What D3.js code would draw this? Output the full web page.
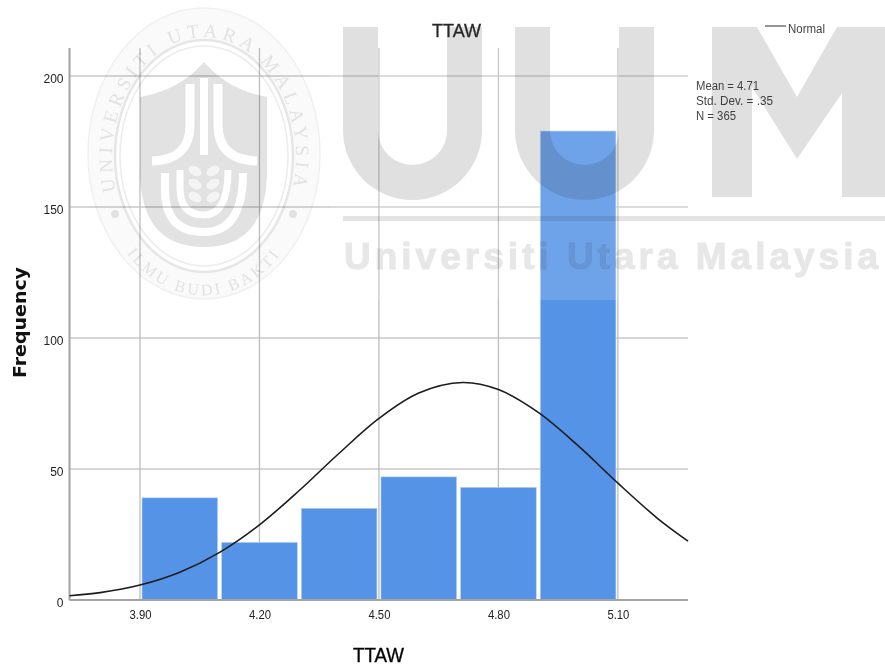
<!DOCTYPE html>
<html><head><meta charset="utf-8">
<script src="https://cdnjs.cloudflare.com/ajax/libs/d3/7.8.5/d3.min.js"></script>
<style>
html,body{margin:0;padding:0;background:#fff}
svg{display:block;filter:blur(0.35px)}
text{font-family:"Liberation Sans",Arial,sans-serif;fill:#222}
</style></head><body>
<svg id="c" width="885" height="671"></svg>
<script>
const binStarts = [3.9, 4.1, 4.3, 4.5, 4.7, 4.9];
const binCounts = [39, 22, 35, 47, 43, 179];
const binWidth = 0.2;
const xTicks = [3.9, 4.2, 4.5, 4.8, 5.1];
const yTicks = [0, 50, 100, 150, 200];
const curveX = [3.723, 3.8, 3.9, 4.0, 4.1, 4.2, 4.3, 4.4, 4.5, 4.6, 4.71, 4.8, 4.9, 5.0, 5.1, 5.2, 5.276];
const curveY = [1.6, 2.8, 5.7, 10.6, 18.2, 28.7, 41.8, 56, 69.3, 79, 83, 80.3, 71.6, 58.9, 44.6, 31.1, 22.5];
const statLines = ["Mean = 4.71", "Std. Dev. = .35", "N = 365"];
const chartTitle = "TTAW", xTitle = "TTAW", yTitle = "Frequency", legendLabel = "Normal";

const svg = d3.select("#c");
const x = d3.scaleLinear().domain([3.723, 5.276]).range([69.5, 688]);
const y = d3.scaleLinear().domain([0, 200]).range([600, 76]);

// Gridlines
svg.append("g").selectAll("line").data(yTicks.slice(1)).join("line")
  .attr("x1", 70).attr("x2", 688).attr("y1", d => y(d)).attr("y2", d => y(d))
  .attr("stroke", "#c9c9c9").attr("stroke-width", 1.6);
svg.append("g").selectAll("line").data(xTicks).join("line")
  .attr("x1", d => x(d)).attr("x2", d => x(d)).attr("y1", 48).attr("y2", 600)
  .attr("stroke", "#bdbdbd").attr("stroke-width", 1.3);

// Bars
svg.append("g").selectAll("rect").data(binStarts).join("rect")
  .attr("x", d => x(d) + 2).attr("width", d => x(d + binWidth) - x(d) - 4)
  .attr("y", (d, i) => y(binCounts[i])).attr("height", (d, i) => y(0) - y(binCounts[i]))
  .attr("fill", "#5593e6").attr("stroke", "#b9d3f5").attr("stroke-width", 0.6);

// Axes
const yAxis = svg.append("g").attr("transform", "translate(69.5,0)")
  .call(d3.axisLeft(y).tickValues(yTicks).tickSize(0).tickPadding(6));
yAxis.select(".domain").attr("d", "M0,48V600").attr("stroke", "#a3a3a3").attr("stroke-width", 2);
yAxis.selectAll("text").attr("font-size", 12).attr("dy", "0.5em").style("font-family", '"Liberation Sans"').attr("fill", "#222");
const xAxis = svg.append("g").attr("transform", "translate(0,600)")
  .call(d3.axisBottom(x).tickValues(xTicks).tickFormat(d3.format(".2f")).tickSize(0).tickPadding(10));
xAxis.select(".domain").attr("d", "M69.5,0H688").attr("stroke", "#a3a3a3").attr("stroke-width", 2);
xAxis.selectAll("text").attr("font-size", 12).style("font-family", '"Liberation Sans"').attr("fill", "#222")
  .attr("textLength", 22).attr("lengthAdjust", "spacingAndGlyphs");

// Normal curve
const curvePts = curveX.map((v, i) => [v, curveY[i]]);
svg.append("path").datum(curvePts)
  .attr("d", d3.line().x(d => x(d[0])).y(d => y(d[1])).curve(d3.curveCatmullRom.alpha(0.5)))
  .attr("fill", "none").attr("stroke", "#1c1c1c").attr("stroke-width", 1.6);

// Titles
svg.append("text").text(chartTitle).attr("x", 456.5).attr("y", 37).attr("text-anchor", "middle")
  .attr("font-size", 19).attr("textLength", 49).attr("lengthAdjust", "spacingAndGlyphs")
  .style("fill", "#000").style("stroke", "#000").style("stroke-width", 0.35);
svg.append("text").text(xTitle).attr("x", 378.5).attr("y", 662).attr("text-anchor", "middle")
  .attr("font-size", 20).attr("textLength", 51).attr("lengthAdjust", "spacingAndGlyphs")
  .style("fill", "#000").style("stroke", "#000").style("stroke-width", 0.35);
svg.append("text").text(yTitle).attr("transform", "translate(26,322.5) rotate(-90)")
  .attr("text-anchor", "middle").style("font-family", '"DejaVu Sans"').style("font-weight", "bold")
  .attr("font-size", 17).attr("textLength", 111).attr("lengthAdjust", "spacingAndGlyphs").style("fill", "#111");

// Legend and stats
svg.append("line").attr("x1", 765).attr("x2", 786).attr("y1", 26).attr("y2", 26).attr("stroke", "#333").attr("stroke-width", 1.2);
svg.append("text").text(legendLabel).attr("x", 788).attr("y", 32.5).attr("font-size", 12)
  .attr("textLength", 37).attr("lengthAdjust", "spacingAndGlyphs");
const statLen = [63, 77, 40];
svg.append("g").selectAll("text").data(statLines).join("text").text(d => d)
  .attr("x", 696).attr("y", (d, i) => 90 + i * 15).attr("font-size", 12)
  .attr("textLength", (d, i) => statLen[i]).attr("lengthAdjust", "spacingAndGlyphs");

// Watermark (multiplied over the chart)
const defs = svg.append("defs");
defs.append("path").attr("id", "arcTop").attr("d", "M116,192A92,120 0 1 1 292,192");
defs.append("path").attr("id", "arcBot").attr("d", "M116,236A106,134 0 0 0 292,236");

const wm = svg.append("g").style("mix-blend-mode", "multiply");
wm.append("rect").attr("width", 885).attr("height", 671).attr("fill", "#fff");
const gray = "#dbdbdb";
function uShape(l) {
  const r = l + 139, a = l + 35, b = r - 35;
  return `M${l},27H${a}V130.5A34.5,34.5 0 0 0 ${b},130.5V27H${r}V130.5A69.5,69.5 0 0 1 ${l},130.5Z`;
}
wm.append("path").attr("d", uShape(343)).attr("fill", gray);
wm.append("path").attr("d", uShape(515)).attr("fill", gray);
wm.append("path").attr("d", "M712,27H757L797,97L837,27H885V197H842V93L797,159L752,87V197H712Z").attr("fill", gray);
wm.append("rect").attr("x", 343).attr("y", 216).attr("width", 542).attr("height", 5).attr("fill", "#e0e0e0");
wm.append("text").text("Universiti Utara Malaysia").attr("x", 344).attr("y", 269)
  .style("font-family", '"Liberation Sans"').style("font-weight", "bold").style("fill", "#e3e3e3")
  .style("stroke", "#e3e3e3").style("stroke-width", 1)
  .attr("font-size", 37).attr("textLength", 534).attr("lengthAdjust", "spacing");

// Crest
const crest = wm.append("g");
crest.append("ellipse").attr("cx", 204).attr("cy", 153.5).attr("rx", 116).attr("ry", 145.5).attr("fill", "#fafafa").attr("stroke", "#f0f0f0").attr("stroke-width", 1.5);
crest.append("ellipse").attr("cx", 204).attr("cy", 156).attr("rx", 89).attr("ry", 116).attr("fill", "#fff").attr("stroke", "#e6e6e6").attr("stroke-width", 2.5);
crest.append("ellipse").attr("cx", 204).attr("cy", 156).attr("rx", 84).attr("ry", 110).attr("fill", "none").attr("stroke", "#ececec").attr("stroke-width", 1.5);
crest.append("path").attr("d", "M140,97Q180,90 204,62Q228,90 267,97V170Q267,247 204,247Q140,247 140,170Z").attr("fill", "#e2e2e2");
[["M204,78V155", 8], ["M190,84V125Q190,160 152,161", 9], ["M218,84V125Q218,160 257,161", 9],
 ["M165,173V190Q165,232 204,232Q243,232 243,173", 8], ["M180,170V188Q180,215 204,215Q228,215 228,170", 7]]
 .forEach(([d, w]) => crest.append("path").attr("d", d).attr("fill", "none").attr("stroke", "#fff").attr("stroke-width", w));
[[195,171,30],[213,171,-30],[195,184,30],[213,184,-30],[195,197,30],[213,197,-30]].forEach(([cx, cy, a]) =>
  crest.append("ellipse").attr("rx", 7).attr("ry", 4.5).attr("fill", "#f4f4f4")
    .attr("transform", `translate(${cx},${cy}) rotate(${a})`));
[[115,214],[293,214]].forEach(([cx, cy]) => crest.append("circle").attr("cx", cx).attr("cy", cy).attr("r", 4).attr("fill", "#e2e2e2"));
wm.append("text").style("font-family", '"Liberation Serif"').style("fill", "#e2e2e2").attr("font-size", 19)
  .append("textPath").attr("href", "#arcTop").attr("startOffset", "50%").attr("text-anchor", "middle").attr("letter-spacing", 5).text("UNIVERSITI UTARA MALAYSIA");
wm.append("text").style("font-family", '"Liberation Serif"').style("fill", "#e2e2e2").attr("font-size", 16)
  .append("textPath").attr("href", "#arcBot").attr("startOffset", "50%").attr("text-anchor", "middle").attr("letter-spacing", 3).text("ILMU BUDI BAKTI");

// Pale veil of the watermark's upper band
svg.append("rect").attr("x", 330).attr("y", 0).attr("width", 555).attr("height", 300).attr("fill", "#fff").attr("opacity", 0.15);
</script>
</body></html>
